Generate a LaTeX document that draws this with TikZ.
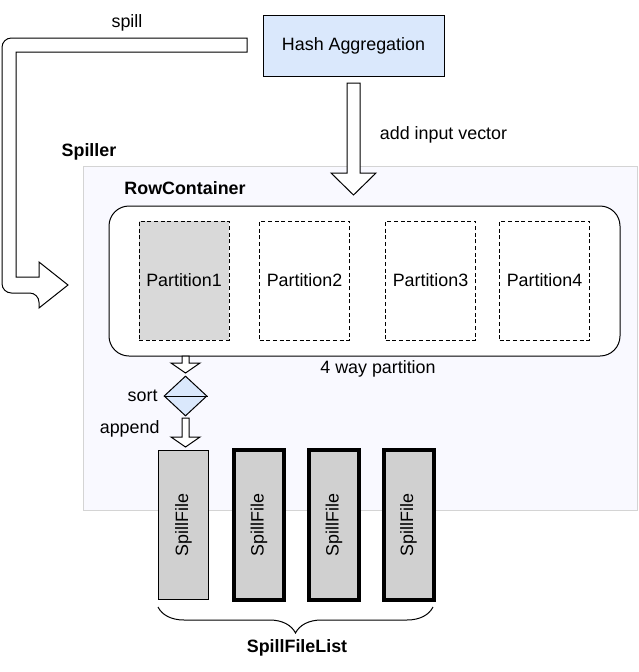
\documentclass[tikz,border=0pt]{standalone}
\usepackage{fontspec}
\setmainfont{Liberation Sans}
\usetikzlibrary{decorations.pathreplacing,shapes.geometric}
\definecolor{hashblue}{HTML}{DAE8FC}
\definecolor{spillbg}{HTML}{F9F9FF}
\definecolor{spillborder}{HTML}{D4D4D4}
\definecolor{partgray}{HTML}{D9D9D9}
\definecolor{filegray}{HTML}{D0D0D0}
\begin{document}
\begin{tikzpicture}[x=0.75pt,y=-0.75pt,
  font=\fontsize{13.4}{16}\selectfont,
  line width=0.75pt,
  boxbase/.style={draw,inner sep=0pt,outer sep=0pt},
  partbox/.style={boxbase,dash pattern=on 3pt off 2pt,minimum width=67.5pt,minimum height=89.25pt},
  filebox/.style={boxbase,fill=filegray,minimum width=37.5pt,minimum height=112pt},
  filetext/.style={inner sep=0pt,rotate=90},
  blockarrow/.style={draw,fill=white,line join=miter},
  lbl/.style={inner sep=0pt},
  boldlbl/.style={inner sep=0pt,font=\fontsize{13.4}{16}\selectfont\bfseries}]
\useasboundingbox (0,0) rectangle (639,672);

% Spiller container
\node[boxbase,draw=spillborder,fill=spillbg,line width=0.6pt,minimum width=415.5pt,minimum height=258pt] (spiller) at (360,338) {};
\node[boldlbl] (spillerlbl) at (89,152) {Spiller};

% Hash aggregation
\node[boxbase,fill=hashblue,minimum width=135.75pt,minimum height=45.75pt] (hash) at (353.5,45.5) {Hash Aggregation};

% RowContainer
\node[boxbase,fill=white,rounded corners=15pt,minimum width=383.25pt,minimum height=112.5pt] (rows) at (364.5,281) {};
\node[boldlbl] (rowslbl) at (185,188) {RowContainer};

% Partitions
\node[partbox,fill=partgray] (p1) at (184,280.5) {Partition1};
\node[partbox] (p2) at (304.5,280.5) {Partition2};
\node[partbox] (p3) at (430.5,280.5) {Partition3};
\node[partbox] (p4) at (544.5,280.5) {Partition4};
\node[lbl] (waylbl) at (378,369) {4 way partition};

% add input vector arrow
\draw[blockarrow] (347,83) -- (360,83) -- (360,173) -- (376,173) -- (353.5,195) -- (331,173) -- (347,173) -- cycle;
\node[lbl] (addlbl) at (443.5,135) {add input vector};

% spill arrow
\draw[blockarrow] (247,52) -- (247,38) [rounded corners=7pt] -- (2,38) -- (2,293) -- (39,293) [sharp corners] -- (39,308) -- (68,285) -- (39,262) -- (39,277) -- (16,277) -- (16,52) -- cycle;
\node[lbl] (spilllbl) at (127,23) {spill};

% sort diamond
\draw[blockarrow] (182,356) -- (189,356) -- (189,363) -- (200,363) -- (185.5,373) -- (171,363) -- (182,363) -- cycle;
\node[diamond,draw,fill=hashblue,inner sep=0pt,minimum width=32.25pt,minimum height=30pt] (sortd) at (185.5,396) {};
\draw (sortd.west) -- (sortd.east);
\node[lbl,anchor=east] (sortlbl) at (158,396) {sort};
\draw[blockarrow] (182,418) -- (189,418) -- (189,437) -- (200,437) -- (185.5,447) -- (171,437) -- (182,437) -- cycle;
\node[lbl,anchor=east] (appendlbl) at (160,429) {append};

% Spill files
\node[filebox] (f1) at (183.5,525) {};
\node[filebox,line width=3pt] (f2) at (259,525) {};
\node[filebox,line width=3pt] (f3) at (334,525) {};
\node[filebox,line width=3pt] (f4) at (408.5,525) {};
\node[filetext] (t1) at (f1.center) {SpillFile};
\node[filetext] (t2) at (f2.center) {SpillFile};
\node[filetext] (t3) at (f3.center) {SpillFile};
\node[filetext] (t4) at (f4.center) {SpillFile};

% brace
\coordinate (bl) at (158,607);
\coordinate (br) at (433,607);
\draw[decorate,decoration={brace,mirror,amplitude=19.5pt}] (bl) -- (br);
\node[boldlbl] (listlbl) at (297,648) {SpillFileList};
\end{tikzpicture}
\end{document}
